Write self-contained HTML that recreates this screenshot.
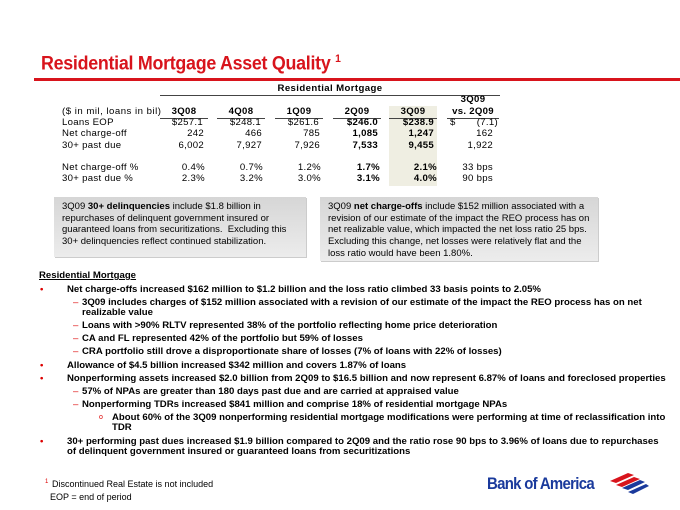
<!DOCTYPE html>
<html><head><style>
body{margin:0;width:680px;height:510px;background:#fff;position:relative;overflow:hidden;font-family:"Liberation Sans",sans-serif;color:#000}
.a{position:absolute;white-space:nowrap}
.b{font-weight:bold}
.row{position:absolute;left:0;width:680px;height:12px;font-size:9.6px;line-height:12px;letter-spacing:0.3px}
.row span{position:absolute;white-space:nowrap}
.box{position:absolute;background:linear-gradient(#d6d6d6,#ececec);font-size:9.5px;line-height:11.7px;padding:4px 8px;box-sizing:border-box;box-shadow:1px 1px 0 #ccc}
.l{position:absolute;font-size:9.6px;font-weight:bold;line-height:12px;white-space:nowrap}
.r{color:#d00}
.u{position:absolute;height:1px;background:#444;top:118px}
</style></head><body>
<div class="a b" style="left:41px;top:50px;font-size:19px;line-height:19px;color:#d8141c;letter-spacing:-0.3px;transform:scaleX(0.94);transform-origin:left">Residential Mortgage Asset Quality <sup style="font-size:11px">1</sup></div>
<div class="a" style="left:34px;top:78px;width:646px;height:3px;background:#d8141c"></div>
<div class="a b" style="left:160px;top:83px;width:340px;text-align:center;font-size:9.6px;line-height:12px;letter-spacing:0.4px">Residential Mortgage</div>
<div class="a" style="left:160px;top:95px;width:340px;height:1px;background:#444"></div>
<div class="a" style="left:389px;top:106px;width:48px;height:80px;background:#efeee2"></div>
<div class="u" style="left:160px;width:48px"></div><div class="u" style="left:217px;width:48px"></div><div class="u" style="left:275px;width:48px"></div><div class="u" style="left:333px;width:48px"></div><div class="u" style="left:389px;width:48px"></div><div class="u" style="left:447px;width:52px"></div>
<div class="row b" style="top:94px"><span style="left:447px;width:52px;text-align:center">3Q09</span></div>
<div class="row" style="top:106px"><span style="left:62px;letter-spacing:0.5px">($ in mil, loans in bil)</span><span class="b" style="left:160px;width:48px;text-align:center">3Q08</span><span class="b" style="left:217px;width:48px;text-align:center">4Q08</span><span class="b" style="left:275px;width:48px;text-align:center">1Q09</span><span class="b" style="left:333px;width:48px;text-align:center">2Q09</span><span class="b" style="left:389px;width:48px;text-align:center">3Q09</span><span class="b" style="left:447px;width:52px;text-align:center">vs. 2Q09</span></div>
<div class="row" style="top:117px"><span style="left:62px">Loans EOP</span><span style="right:477px">$257.1</span><span style="right:419px">$248.1</span><span style="right:361px">$261.6</span><span class="b" style="right:302px">$246.0</span><span class="b" style="right:246px">$238.9</span><span style="left:450px">$</span><span style="right:182px">(7.1)</span></div>
<div class="row" style="top:128px"><span style="left:62px">Net charge-off</span><span style="right:476px">242</span><span style="right:418px">466</span><span style="right:360px">785</span><span class="b" style="right:302px">1,085</span><span class="b" style="right:246px">1,247</span><span style="right:187px">162</span></div>
<div class="row" style="top:140px"><span style="left:62px">30+ past due</span><span style="right:476px">6,002</span><span style="right:418px">7,927</span><span style="right:360px">7,926</span><span class="b" style="right:302px">7,533</span><span class="b" style="right:246px">9,455</span><span style="right:187px">1,922</span></div>
<div class="row" style="top:162px"><span style="left:62px">Net charge-off %</span><span style="right:475px">0.4%</span><span style="right:417px">0.7%</span><span style="right:359px">1.2%</span><span class="b" style="right:300px">1.7%</span><span class="b" style="right:243px">2.1%</span><span style="right:187px">33 bps</span></div>
<div class="row" style="top:173px"><span style="left:62px">30+ past due %</span><span style="right:475px">2.3%</span><span style="right:417px">3.2%</span><span style="right:359px">3.0%</span><span class="b" style="right:300px">3.1%</span><span class="b" style="right:243px">4.0%</span><span style="right:187px">90 bps</span></div>
<div class="box" style="left:54px;top:197px;width:252px;height:60px">3Q09 <b>30+ delinquencies</b> include $1.8 billion in repurchases of delinquent government insured or guaranteed loans from securitizations.&nbsp; Excluding this 30+ delinquencies reflect continued stabilization.</div>
<div class="box" style="left:320px;top:197px;width:278px;height:64px;line-height:11.7px">3Q09 <b>net charge-offs</b> include $152 million associated with a revision of our estimate of the impact the REO process has on net realizable value, which impacted the net loss ratio 25 bps. Excluding this change, net losses were relatively flat and the loss ratio would have been 1.80%.</div>
<div class="l" style="left:39px;top:270px;text-decoration:underline">Residential Mortgage</div>
<div class="l r" style="left:40px;top:284px">•</div><div class="l" style="left:67px;top:284px">Net charge-offs increased $162 million to $1.2 billion and the loss ratio climbed 33 basis points to 2.05%</div>
<div class="l r" style="left:73px;top:297px;font-weight:normal">–</div><div class="l" style="left:82px;top:297px">3Q09 includes charges of $152 million associated with a revision of our estimate of the impact the REO process has on net</div>
<div class="l" style="left:82px;top:307px">realizable value</div>
<div class="l r" style="left:73px;top:320px;font-weight:normal">–</div><div class="l" style="left:82px;top:320px">Loans with &gt;90% RLTV represented 38% of the portfolio reflecting home price deterioration</div>
<div class="l r" style="left:73px;top:333px;font-weight:normal">–</div><div class="l" style="left:82px;top:333px">CA and FL represented 42% of the portfolio but 59% of losses</div>
<div class="l r" style="left:73px;top:346px;font-weight:normal">–</div><div class="l" style="left:82px;top:346px">CRA portfolio still drove a disproportionate share of losses (7% of loans with 22% of losses)</div>
<div class="l r" style="left:40px;top:360px">•</div><div class="l" style="left:67px;top:360px">Allowance of $4.5 billion increased $342 million and covers 1.87% of loans</div>
<div class="l r" style="left:40px;top:373px">•</div><div class="l" style="left:67px;top:373px">Nonperforming assets increased $2.0 billion from 2Q09 to $16.5 billion and now represent 6.87% of loans and foreclosed properties</div>
<div class="l r" style="left:73px;top:386px;font-weight:normal">–</div><div class="l" style="left:82px;top:386px">57% of NPAs are greater than 180 days past due and are carried at appraised value</div>
<div class="l r" style="left:73px;top:399px;font-weight:normal">–</div><div class="l" style="left:82px;top:399px">Nonperforming TDRs increased $841 million and comprise 18% of residential mortgage NPAs</div>
<div class="l r" style="left:99px;top:412px;font-weight:normal;font-size:7px">o</div><div class="l" style="left:112px;top:412px">About 60% of the 3Q09 nonperforming residential mortgage modifications were performing at time of reclassification into</div>
<div class="l" style="left:112px;top:422px">TDR</div>
<div class="l r" style="left:40px;top:436px">•</div><div class="l" style="left:67px;top:436px">30+ performing past dues increased $1.9 billion compared to 2Q09 and the ratio rose 90 bps to 3.96% of loans due to repurchases</div>
<div class="l" style="left:67px;top:446px">of delinquent government insured or guaranteed loans from securitizations</div>
<div class="a r" style="left:45px;top:479px;font-size:6px">1</div>
<div class="a" style="left:52px;top:478px;font-size:9px;line-height:12px">Discontinued Real Estate is not included</div>
<div class="a" style="left:50px;top:491px;font-size:9px;line-height:12px">EOP = end of period</div>
<div class="a b" style="left:487px;top:474px;font-size:17px;line-height:20px;color:#1a3a9c;letter-spacing:-0.8px;transform:scaleX(0.88);transform-origin:left">Bank of America</div>
<svg class="a" style="left:608px;top:472px" width="42" height="22" viewBox="0 0 42 22">
<path d="M2 9 L20 1 L26 3 L8 11Z M8 13 L26 5 L32 7 L14 15Z" fill="#d8141c"/>
<path d="M14 16 L32 8 L37 10 L20 18Z M20 20 L38 12 L41 14 L25 22Z" fill="#1a3a9c"/>
</svg>
</body></html>
